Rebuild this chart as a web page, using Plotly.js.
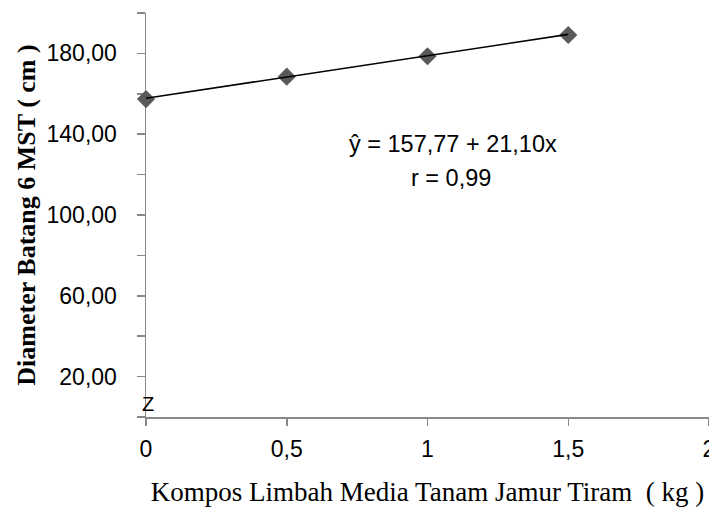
<!DOCTYPE html>
<html>
<head>
<meta charset="utf-8">
<script src="https://cdn.plot.ly/plotly-3.0.1.min.js"></script>
<style>
  html, body { margin: 0; padding: 0; background: #ffffff; }
  #chart { width: 709px; height: 509px; }
</style>
</head>
<body>
<div id="chart"></div>
<script>
const doseKg = [0, 0.5, 1, 1.5];
const diameter = [157.4, 168.5, 178.6, 189.1];

// Regression line reported on the chart
const trendX = [0, 1.5];
const trendY = [157.77, 189.42];
const equationText = "ŷ = 157,77 + 21,10x";
const rText = "r = 0,99";

// Axis ticks
const xTickVals = [0, 0.5, 1, 1.5, 2];
const xTickText = ["0", "0,5", "1", "1,5", "2"];
const yTickVals = [0, 20, 40, 60, 80, 100, 120, 140, 160, 180, 200];
const yTickText = ["", "20,00", "", "60,00", "", "100,00", "", "140,00", "", "180,00", ""];

const sansFont = "Liberation Sans, Arial, sans-serif";
const serifFont = "Liberation Serif, Times New Roman, serif";

const traces = [
  {
    type: "scatter",
    mode: "markers",
    x: doseKg,
    y: diameter,
    cliponaxis: false,
    marker: { symbol: "diamond", size: 14, color: "#595959", line: { width: 0 } },
    showlegend: false,
    hoverinfo: "x+y"
  },
  {
    type: "scatter",
    mode: "lines",
    x: trendX,
    y: trendY,
    cliponaxis: false,
    line: { color: "#000000", width: 1.6 },
    showlegend: false,
    hoverinfo: "skip"
  }
];

const layout = {
  width: 709,
  height: 509,
  margin: { l: 146, r: 0, t: 13, b: 92, pad: 0 },
  paper_bgcolor: "#ffffff",
  plot_bgcolor: "#ffffff",
  showlegend: false,
  font: { family: sansFont, size: 23, color: "#000000" },
  xaxis: {
    range: [0, 2],
    tickvals: xTickVals,
    ticktext: xTickText,
    ticks: "outside",
    ticklen: 7,
    tickwidth: 1.5,
    tickcolor: "#888888",
    showline: true,
    linecolor: "#888888",
    linewidth: 1.5,
    showgrid: false,
    zeroline: false,
    layer: "below traces",
    automargin: false,
    ticklabeloverflow: "allow",
    ticklabelstandoff: 4,
    tickfont: { family: sansFont, size: 23, color: "#000000" },
    title: {
      text: "Kompos Limbah Media Tanam Jamur Tiram  ( kg )",
      font: { family: serifFont, size: 27, color: "#000000" },
      standoff: 21
    }
  },
  yaxis: {
    range: [0, 200],
    tickvals: yTickVals,
    ticktext: yTickText,
    ticks: "outside",
    ticklen: 8,
    tickwidth: 1.5,
    tickcolor: "#888888",
    showline: true,
    linecolor: "#888888",
    linewidth: 1.5,
    showgrid: false,
    zeroline: false,
    layer: "below traces",
    automargin: false,
    ticklabelstandoff: 15,
    tickfont: { family: sansFont, size: 23, color: "#000000" },
    title: {
      text: "<b>Diameter Batang 6 MST ( cm )</b>",
      font: { family: serifFont, size: 26, color: "#000000" },
      standoff: 3
    }
  },
  annotations: [
    {
      xref: "x", yref: "y",
      x: 1.092, y: 135.1,
      text: equationText,
      showarrow: false,
      xanchor: "center", yanchor: "middle",
      font: { family: sansFont, size: 23.5, color: "#000000" }
    },
    {
      xref: "x", yref: "y",
      x: 1.085, y: 118.5,
      text: rText,
      showarrow: false,
      xanchor: "center", yanchor: "middle",
      font: { family: sansFont, size: 23.5, color: "#000000" }
    },
    {
      xref: "x", yref: "y",
      x: 0.0085, y: 6.5,
      text: "Z",
      showarrow: false,
      xanchor: "center", yanchor: "middle",
      font: { family: sansFont, size: 20, color: "#000000" }
    }
  ]
};

Plotly.newPlot("chart", traces, layout, { displayModeBar: false, staticPlot: true });
</script>
</body>
</html>
